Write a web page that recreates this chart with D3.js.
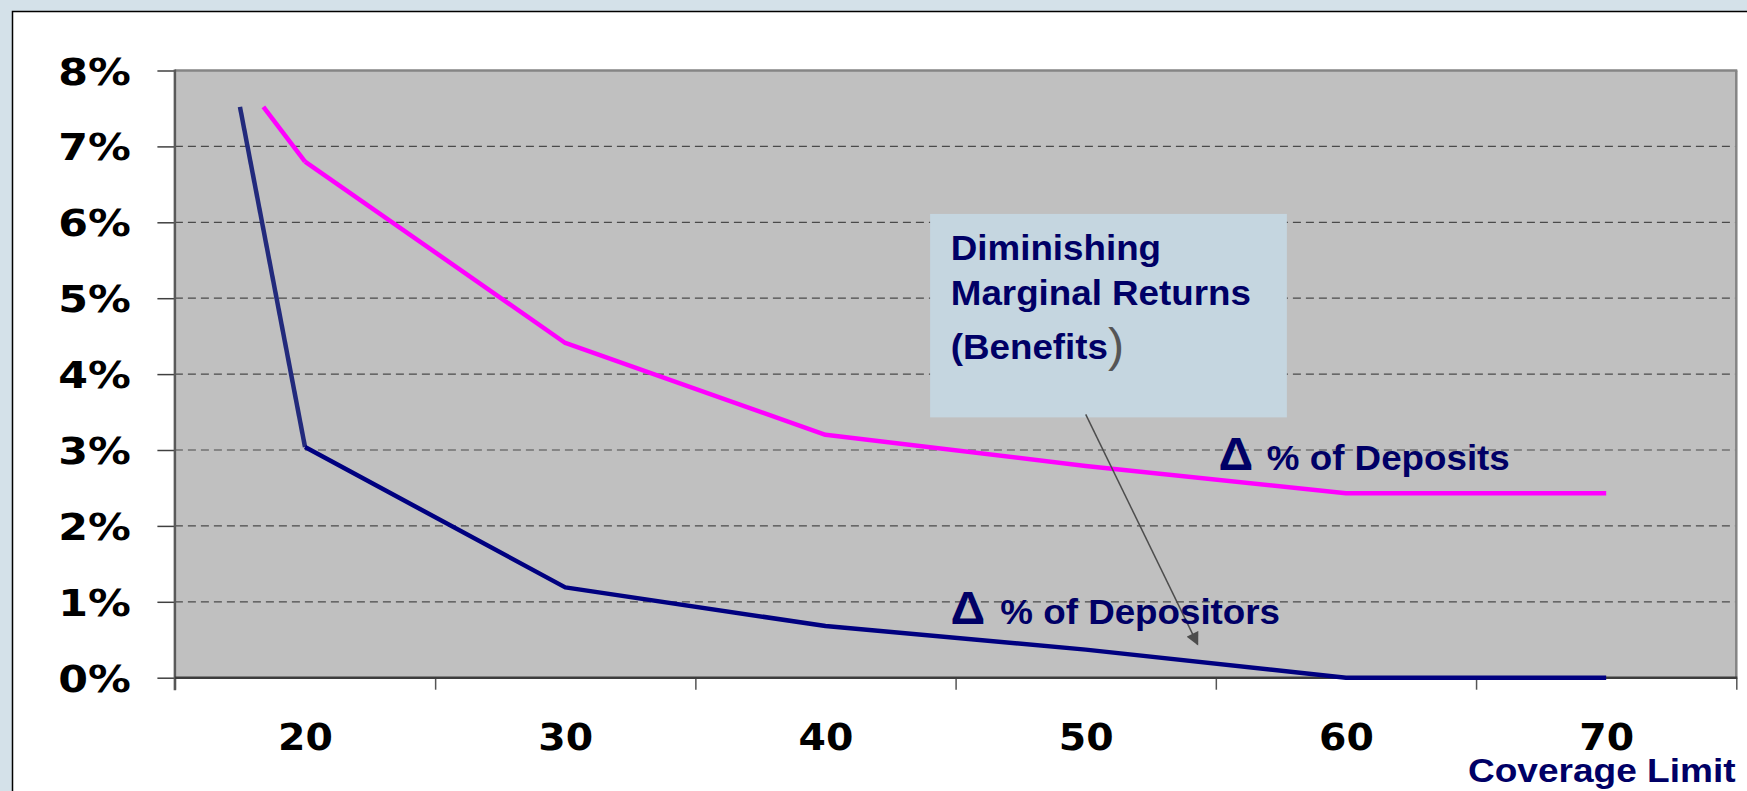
<!DOCTYPE html>
<html>
<head>
<meta charset="utf-8">
<script src="https://cdn.jsdelivr.net/npm/d3@7"></script>
<style>
  body { margin: 0; padding: 0; background: #d4e1e9; }
  svg { display: block; }
</style>
</head>
<body>
<script>
// ---------- data ----------
const categories = [20, 30, 40, 50, 60, 70];           // coverage limit
const yTicks = [0, 1, 2, 3, 4, 5, 6, 7, 8];             // percent
const depositorsMain = [3.04, 1.19, 0.68, 0.37, 0, 0];  // Δ % of Depositors
const depositsMain = [6.8, 4.41, 3.2, 2.79, 2.43, 2.43]; // Δ % of Deposits
// hand-drawn lead-in segments (x in coverage units, y in %)
const depositorsLeadX = [17.5, 20];
const depositorsLeadY = [7.52, 3.04];
const depositsLeadX = [18.4, 20];
const depositsLeadY = [7.52, 6.8];
// annotation (data units)
const boxX = [44.02, 57.73];
const boxY = [6.11, 3.43];
const arrowX = [50.0, 54.3];
const arrowY = [3.47, 0.44];
const boxLines = ["Diminishing", "Marginal Returns", "(Benefits"];
const depositsLabelPos = [55.1, 2.74];
const depositorsLabelPos = [44.8, 0.71];

// ---------- setup ----------
const W = 1747, H = 791;
const svg = d3.select("body").append("svg").attr("width", W).attr("height", H);
const NAVY = "#000066";

svg.append("rect").attr("width", W).attr("height", H).attr("fill", "#d4e1e9");
svg.append("rect").attr("x", 12.5).attr("y", 11.5).attr("width", W).attr("height", H)
  .attr("fill", "#ffffff").attr("stroke", "#000").attr("stroke-width", 1.5);

const x = d3.scaleLinear().domain([15, 75]).range([174.9, 1736.3]);
const y = d3.scaleLinear().domain([0, 8]).range([677.7, 70.5]);
const boundaries = categories.map(c => c - 5).concat([categories[categories.length - 1] + 5]);

// plot background
svg.append("rect")
  .attr("x", x(15)).attr("y", y(8))
  .attr("width", x(75) - x(15)).attr("height", y(0) - y(8))
  .attr("fill", "#c0c0c0");

// gridlines
svg.append("g").selectAll("line").data(yTicks.filter(d => d > 0 && d < 8)).join("line")
  .attr("x1", x(15)).attr("x2", x(75))
  .attr("y1", d => y(d)).attr("y2", d => y(d))
  .attr("stroke", "#4a4a4a").attr("stroke-width", 1.2).attr("stroke-dasharray", "8,5");

// frame top/right
svg.append("line").attr("x1", x(15)).attr("x2", x(75) + 1).attr("y1", y(8)).attr("y2", y(8))
  .attr("stroke", "#858585").attr("stroke-width", 2.5);
svg.append("line").attr("x1", x(75)).attr("x2", x(75)).attr("y1", y(8)).attr("y2", y(0))
  .attr("stroke", "#858585").attr("stroke-width", 2.5);

// y axis
const yAxis = svg.append("g").attr("transform", `translate(${x(15)},0)`)
  .call(d3.axisLeft(y).tickValues(yTicks).tickSize(17.5).tickFormat(d => d + "%"));
yAxis.select(".domain").remove();
yAxis.selectAll(".tick line").attr("stroke", "#404040").attr("stroke-width", 1.5);
const ySX = 1.14;
yAxis.selectAll(".tick text")
  .attr("font-family", "'DejaVu Sans', sans-serif").attr("font-weight", "bold")
  .attr("font-size", 37.5).attr("fill", "#000")
  .attr("x", -44.2 / ySX).attr("dy", "0.36em")
  .attr("transform", `scale(${ySX},1)`);
svg.append("line").attr("x1", x(15)).attr("x2", x(15)).attr("y1", y(8) - 1).attr("y2", y(0) + 12.5)
  .attr("stroke", "#5a5a5a").attr("stroke-width", 2.5);

// x axis ticks at category boundaries
const xAxis = svg.append("g").attr("transform", `translate(0,${y(0)})`)
  .call(d3.axisBottom(x).tickValues(boundaries).tickSize(12).tickFormat(""));
xAxis.select(".domain").remove();
xAxis.selectAll(".tick line").attr("stroke", "#555").attr("stroke-width", 1.5);
svg.append("line").attr("x1", x(15)).attr("x2", x(75) + 1).attr("y1", y(0)).attr("y2", y(0))
  .attr("stroke", "#3c3c3c").attr("stroke-width", 2.5);

// x labels at category centers
const xSX = 1.05;
const xLab = svg.append("g").attr("transform", `translate(0,${y(0)})`)
  .call(d3.axisBottom(x).tickValues(categories).tickSize(0).tickFormat(d => d));
xLab.select(".domain").remove();
xLab.selectAll(".tick text")
  .attr("font-family", "'DejaVu Sans', sans-serif").attr("font-weight", "bold")
  .attr("font-size", 37.5).attr("fill", "#000")
  .attr("y", 72.3).attr("dy", null)
  .attr("transform", `scale(${xSX},1)`);

// axis title
svg.append("g").attr("transform", "translate(1735.6,781.7)")
  .append("text").attr("transform", "scale(1.09,1)")
  .attr("text-anchor", "end")
  .attr("font-family", "'Liberation Sans', Arial, sans-serif").attr("font-weight", "bold")
  .attr("font-size", 34).attr("fill", NAVY)
  .text("Coverage Limit");

// ---------- lines ----------
const line = d3.line().x(d => x(d[0])).y(d => y(d[1]));
svg.append("path").datum(d3.zip(depositsLeadX, depositsLeadY))
  .attr("d", line).attr("fill", "none").attr("stroke", "#ff00ff").attr("stroke-width", 4.5);
svg.append("path").datum(d3.zip(categories, depositsMain))
  .attr("d", line).attr("fill", "none").attr("stroke", "#ff00ff").attr("stroke-width", 4.5)
  .attr("stroke-linejoin", "round");
svg.append("path").datum(d3.zip(depositorsLeadX, depositorsLeadY))
  .attr("d", line).attr("fill", "none").attr("stroke", "#222a7c").attr("stroke-width", 4.5);
svg.append("path").datum(d3.zip(categories, depositorsMain))
  .attr("d", line).attr("fill", "none").attr("stroke", "#000080").attr("stroke-width", 4.5)
  .attr("stroke-linejoin", "round");

// ---------- annotation box ----------
svg.append("rect")
  .attr("x", x(boxX[0])).attr("y", y(boxY[0]))
  .attr("width", x(boxX[1]) - x(boxX[0])).attr("height", y(boxY[1]) - y(boxY[0]))
  .attr("fill", "#c5d6e0");
const tb = svg.append("g").attr("transform", `translate(${x(boxX[0]) + 20.7},0)`);
const baselines = [260, 305, 359];
boxLines.forEach((t, i) => {
  const tx = tb.append("text").attr("transform", `translate(0,${baselines[i]}) scale(1.05,1)`)
    .attr("font-family", "'Liberation Sans', Arial, sans-serif")
    .attr("font-size", 35);
  tx.append("tspan").attr("font-weight", "bold").attr("fill", NAVY).text(t);
  if (i === 2) {
    tx.append("tspan").attr("font-size", 46).attr("fill", "#555").attr("dy", 2).text(")");
  }
});

// arrow
const defs = svg.append("defs");
defs.append("marker").attr("id", "arr").attr("viewBox", "0 0 10 10")
  .attr("refX", 9).attr("refY", 5).attr("markerWidth", 14).attr("markerHeight", 13)
  .attr("markerUnits", "userSpaceOnUse").attr("orient", "auto")
  .append("path").attr("d", "M0,0 L10,5 L0,10 Z").attr("fill", "#4d4d4d");
svg.append("line")
  .attr("x1", x(arrowX[0])).attr("y1", y(arrowY[0]))
  .attr("x2", x(arrowX[1])).attr("y2", y(arrowY[1]))
  .attr("stroke", "#4d4d4d").attr("stroke-width", 1.5).attr("marker-end", "url(#arr)");

// ---------- series labels ----------
function seriesLabel(pos, txt, restOffset) {
  const g = svg.append("g").attr("transform", `translate(${x(pos[0])},${y(pos[1])})`);
  const t = g.append("text").attr("transform", "scale(1.05,1)")
    .attr("font-family", "'Liberation Sans', Arial, sans-serif").attr("font-weight", "bold")
    .attr("fill", NAVY);
  t.append("tspan").attr("x", 0).attr("font-size", 46).text("Δ");
  t.append("tspan").attr("x", restOffset).attr("font-size", 35).text(txt);
}
seriesLabel(depositsLabelPos, "% of Deposits", 46.1);
seriesLabel(depositorsLabelPos, "% of Depositors", 47.6);
</script>
</body>
</html>
